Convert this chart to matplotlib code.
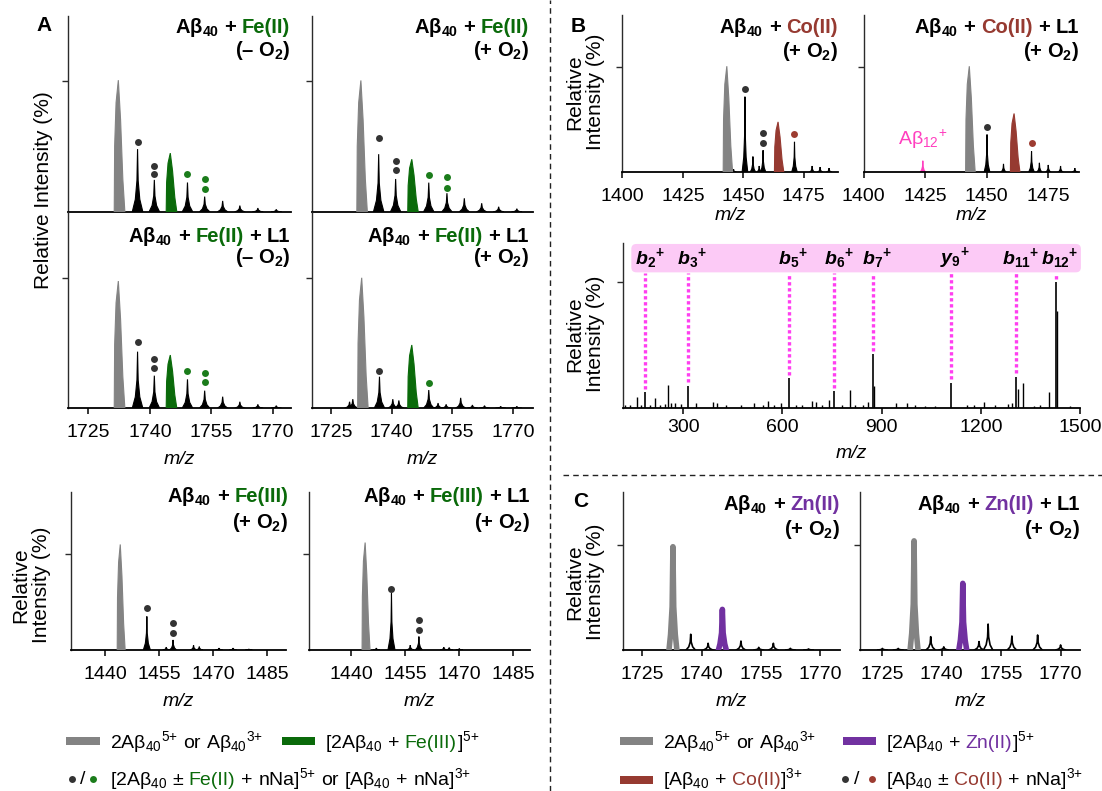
import numpy as np
import matplotlib
matplotlib.use("Agg")
import matplotlib.pyplot as plt
from matplotlib.lines import Line2D
from matplotlib.patches import Rectangle, FancyBboxPatch

plt.rcParams['font.family'] = ['Liberation Sans', 'DejaVu Sans']
plt.rcParams['mathtext.fontset'] = 'custom'
plt.rcParams['mathtext.rm'] = 'Liberation Sans'
plt.rcParams['mathtext.it'] = 'Liberation Sans:italic'
plt.rcParams['mathtext.bf'] = 'Liberation Sans:bold'

# colours
GRAY = '#838383'
GREEN = '#0a6a0a'
CO = '#963a31'
ZN = '#7131a0'
PINK = '#ff3fbf'
BAND = '#fccaf6'
MAG = '#ff3ff0'
FILL = {'k': 'black', 'gray': GRAY, 'fe': GREEN, 'co': CO, 'zn': ZN, 'ab12': PINK}
DOTS = {'k': '#333333', 'fe': '#1b7c1b', 'co': '#9d3c31'}

# ---------- data: (m/z, relative intensity %, species) ----------
# A: Fe(II) -O2 / +O2, without / with L1
fe2_minus_peaks = [(1732.3, 101, 'gray'), (1737.0, 48.2, 'k'), (1741.1, 24.6, 'k'), (1745.0, 45.1, 'fe'),
                   (1749.2, 22.6, 'k'), (1753.4, 11.8, 'k'), (1757.8, 8.5, 'k'), (1762.0, 4.9, 'k'),
                   (1766.4, 3.0, 'k'), (1770.9, 2.0, 'k')]
fe2_minus_dots = [(1737.0, 53.8, 'k'), (1741.1, 35.4, 'k'), (1741.1, 29.2, 'k'),
                  (1749.2, 29.2, 'fe'), (1753.4, 25.1, 'fe'), (1753.4, 17.9, 'fe')]

fe2_plus_peaks = [(1732.4, 100.8, 'gray'), (1736.8, 44.3, 'k'), (1741.0, 25.3, 'k'), (1745.0, 40.4, 'fe'),
                  (1749.2, 22.5, 'k'), (1753.7, 14.4, 'k'), (1758.0, 10.5, 'k'), (1762.3, 6.7, 'k'),
                  (1766.5, 4.0, 'k'), (1771.0, 2.5, 'k')]
fe2_plus_dots = [(1736.8, 56.8, 'k'), (1741.0, 39.4, 'k'), (1741.0, 32.2, 'k'),
                 (1749.2, 28.6, 'fe'), (1753.7, 27.1, 'fe'), (1753.7, 18.2, 'fe')]

fe2_L1_minus_peaks = [(1732.3, 97.5, 'gray'), (1737.0, 43.4, 'k'), (1741.1, 25.0, 'k'), (1745.0, 40.8, 'fe'),
                      (1749.2, 22.2, 'k'), (1753.4, 13.5, 'k'), (1757.8, 8.9, 'k'), (1762.0, 5.0, 'k'),
                      (1766.4, 3.0, 'k'), (1770.9, 2.0, 'k')]
fe2_L1_minus_dots = [(1737.0, 50.5, 'k'), (1741.1, 37.7, 'k'), (1741.1, 30.6, 'k'),
                     (1749.2, 28.3, 'fe'), (1753.4, 27.3, 'fe'), (1753.4, 20.4, 'fe')]

fe2_L1_plus_peaks = [(1729.6, 5, 'k'), (1730.4, 7, 'k'), (1732.6, 100, 'gray'), (1737.0, 24.2, 'k'),
                     (1740.3, 7, 'k'), (1741.8, 6, 'k'), (1745.0, 48.5, 'fe'), (1749.2, 14.0, 'k'),
                     (1751.5, 4, 'k'), (1753.5, 3, 'k'), (1757.1, 8, 'k'), (1760.0, 2.5, 'k'),
                     (1763.0, 2, 'k'), (1767.0, 1.5, 'k'), (1771.0, 1.5, 'k')]
fe2_L1_plus_dots = [(1737.0, 28.8, 'k'), (1749.2, 19.6, 'fe')]

# A: Fe(III)
fe3_peaks = [(1444.2, 110, 'gray'), (1451.6, 35, 'k'), (1457.0, 3, 'k'), (1458.9, 10.5, 'k'),
             (1464.6, 5, 'k'), (1466.2, 3.5, 'k'), (1471.7, 2, 'k'), (1475.6, 2, 'k'), (1480.0, 1, 'k')]
fe3_dots = [(1451.6, 43.4, 'k'), (1458.9, 27.8, 'k'), (1458.9, 18.0, 'k')]
fe3_L1_peaks = [(1443.9, 112, 'gray'), (1447.0, 2, 'k'), (1451.2, 59, 'k'), (1456.4, 5, 'k'),
                (1458.8, 14, 'k'), (1465.7, 3, 'k'), (1467.2, 2.5, 'k'), (1470.0, 1.5, 'k')]
fe3_L1_dots = [(1451.2, 64, 'k'), (1458.8, 31.4, 'k'), (1458.8, 21, 'k')]

# B: Co(II)
co_peaks = [(1443.2, 101, 'gray'), (1446.0, 3, 'k'), (1450.7, 72, 'k'), (1454.0, 15, 'k'),
            (1456.6, 6, 'k'), (1458.2, 21, 'k'), (1464.4, 48, 'co'), (1471.2, 29, 'k'),
            (1478.5, 6, 'k'), (1481.8, 5, 'k'), (1485.5, 4, 'k')]
co_dots = [(1450.7, 79, 'k'), (1458.2, 37, 'k'), (1458.2, 28, 'k'), (1471.2, 36.6, 'co')]
co_L1_peaks = [(1424.0, 11, 'ab12'), (1442.9, 101, 'gray'), (1450.1, 36, 'k'), (1456.8, 8, 'k'),
               (1461.1, 56, 'co'), (1468.2, 20, 'k'), (1471.4, 9, 'k'), (1475.0, 7, 'k'),
               (1480.0, 6, 'k'), (1485.8, 4, 'k')]
co_L1_dots = [(1450.1, 43.5, 'k'), (1468.2, 28, 'co')]

# B: MS/MS of Abeta12+
frag_names = [('b', '2'), ('b', '3'), ('b', '5'), ('b', '6'), ('b', '7'), ('y', '9'), ('b', '11'), ('b', '12')]
frag_mz = [185.4, 313.6, 620.3, 757.2, 872.5, 1109.5, 1307.3, 1427.0]
frag_h = [13.1, 17.9, 23.7, 13.6, 42.9, 20.3, 25.0, 100.0]
ms2_mz = [125, 140, 159, 172, 200, 215, 230, 245, 253, 262, 276, 293, 340, 391, 402, 430, 474, 514,
          540, 556, 575, 597, 640, 660, 688, 700, 720, 741, 780, 805, 820, 845, 860, 876, 942, 976,
          1000, 1030, 1060, 1158, 1180, 1209, 1243, 1281, 1295, 1312, 1327, 1360, 1380, 1407, 1429, 1470]
ms2_h = [3, 2.5, 8.6, 3, 3, 7.9, 2.5, 3.5, 18.4, 4, 4, 3.5, 4, 4.7, 4, 2.5, 2.8, 4,
         2.5, 5.7, 2.5, 4, 3, 2.5, 6, 5, 3, 6.6, 3, 14.5, 3, 3, 5, 18, 4, 4,
         3, 2, 2, 2.5, 2.5, 5, 2.5, 3.5, 4, 15, 20.3, 2, 2.5, 13.1, 77, 2]

# C: Zn(II)
zn_peaks = [(1732.7, 98.4, 'gray'), (1737.2, 15, 'k'), (1741.6, 6.4, 'k'), (1745.2, 38.7, 'zn'),
            (1749.9, 8.5, 'k'), (1754.4, 2.5, 'k'), (1758.1, 6.4, 'k'), (1762.4, 1.6, 'k'), (1767.0, 1, 'k')]
zn_L1_peaks = [(1725.0, 1.5, 'k'), (1729.0, 1.5, 'k'), (1733.0, 104, 'gray'), (1737.2, 12.7, 'k'),
               (1740.5, 3, 'k'), (1745.3, 63.5, 'zn'), (1749.4, 8, 'k'), (1751.7, 24.7, 'k'),
               (1757.7, 13.3, 'k'), (1764.2, 14.3, 'k'), (1770.0, 4.8, 'k')]

fe_ticks = [1725, 1740, 1755, 1770]
fe3_ticks = [1440, 1455, 1470, 1485]
co_ticks = [1400, 1425, 1450, 1475]
ms2_ticks = [300, 600, 900, 1200, 1500]

# peak outline shapes (m/z offsets, fraction of height)
SPIKE_DX = np.array([-1.3, -0.55, -0.15, 0.0, 0.15, 0.55, 1.3])
SPIKE_FY = np.array([0.0, 0.2, 0.5, 1.0, 0.5, 0.2, 0.0])
ENV_DX = np.array([-1.0, -0.9, -0.55, 0.0, 0.55, 1.1, 1.6])
ENV_FY = np.array([0.0, 0.5, 0.83, 1.0, 0.7, 0.25, 0.0])
LINE_DX = np.array([-1.0, -0.6, -0.2, 0.0, 0.2, 0.6, 1.0])
LINE_FY = np.array([0.0, 0.15, 0.42, 1.0, 0.42, 0.15, 0.0])

W, H = 1102, 791
fig = plt.figure(figsize=(W / 100, H / 100), dpi=100)
R = fig.canvas.get_renderer()


def px_axes(l, t, r, b):
    ax = fig.add_axes([l / W, 1 - b / H, (r - l) / W, (b - t) / H])
    ax.patch.set_alpha(0)
    return ax


def style(ax, xlim, ymax, ticks=None, pad=7.5):
    ax.set_xlim(*xlim)
    ax.set_ylim(0, ymax)
    ax.spines['top'].set_visible(False)
    ax.spines['right'].set_visible(False)
    ax.spines['left'].set_color('#2b2b2b')
    ax.spines['left'].set_linewidth(1.0)
    ax.spines['bottom'].set_linewidth(1.3)
    ax.set_yticks([100])
    ax.set_yticklabels([])
    ax.tick_params(axis='y', length=4, width=1, color='#2b2b2b')
    if ticks is None:
        ax.set_xticks([])
    else:
        ax.set_xticks(ticks)
        ax.tick_params(axis='x', length=4, width=1.1, labelsize=14, pad=pad)


def draw_filled(ax, peaks, w_env, w_spike):
    for mz, h, kind in peaks:
        if kind in ('k', 'ab12'):
            xs, ys, z = mz + w_spike * SPIKE_DX, h * SPIKE_FY, 2
        else:
            xs, ys, z = mz + w_env * ENV_DX, h * ENV_FY, 3
        ax.fill(xs, ys, facecolor=FILL[kind], edgecolor=FILL[kind], lw=0.8, zorder=z)


def draw_lines(ax, peaks, w_main, w_small):
    for mz, h, kind in peaks:
        if kind == 'k':
            ax.plot(mz + w_small * SPIKE_DX, h * SPIKE_FY, color='k', lw=1.2, zorder=2)
        else:
            ax.plot(mz + w_main * LINE_DX, h * LINE_FY, color=FILL[kind], lw=4, zorder=3)


def draw_dots(ax, dots):
    for mz, y, kind in dots:
        ax.plot(mz, y, 'o', ms=5, color=DOTS[kind], mec='none', zorder=4, clip_on=False)


def ftxt(x, y, s, **kw):
    return fig.text(x / W, 1 - y / H, s, **kw)


def rich(x, y, parts, size, weight='normal', ha='left'):
    arts, widths = [], []
    for p in parts:
        if p == ' ':
            arts.append(None)
            widths.append(size * 0.386)
            continue
        s, c = p if isinstance(p, tuple) else (p, 'black')
        t = fig.text(0, 0, s, fontsize=size, weight=weight, color=c, va='baseline')
        arts.append(t)
        widths.append(t.get_window_extent(R).width)
    x0 = x - sum(widths) if ha == 'right' else x
    for t, w in zip(arts, widths):
        if t is not None:
            t.set_position((x0 / W, 1 - y / H))
        x0 += w


def title(xr, y1, y2, metal, color, l1, plus):
    parts = ['Aβ$_{\\mathbf{40}}$', ' ', '+', ' ', (metal, color)]
    if l1:
        parts += [' ', '+', ' ', 'L1']
    rich(xr, y1, parts, 14.5, weight='bold', ha='right')
    rich(xr, y2, ['(+ O$_{\\mathbf{2}}$)' if plus else '(– O$_{\\mathbf{2}}$)'], 14.5, weight='bold', ha='right')


def mz_label(ax, y):
    b = ax.get_position()
    fig.text((b.x0 + b.x1) / 2, 1 - y / H, 'm/z', style='italic', fontsize=14, ha='center', va='center')


# ---------------- panel A ----------------
a11 = px_axes(68, 15.7, 291, 212)
a12 = px_axes(312, 15.7, 533, 212)
a21 = px_axes(68, 212, 291, 408.3)
a22 = px_axes(312, 212, 533, 408.3)
for ax, pk, dt, xl, tk in [(a11, fe2_minus_peaks, fe2_minus_dots, (1720, 1774.5), None),
                           (a12, fe2_plus_peaks, fe2_plus_dots, (1720.3, 1775), None),
                           (a21, fe2_L1_minus_peaks, fe2_L1_minus_dots, (1720, 1774.5), fe_ticks),
                           (a22, fe2_L1_plus_peaks, fe2_L1_plus_dots, (1720.3, 1775), fe_ticks)]:
    style(ax, xl, 150.4, tk)
    draw_filled(ax, pk, 1.0, 1.0)
    draw_dots(ax, dt)
title(290, 33, 56, 'Fe(II)', GREEN, False, False)
title(529, 33, 56, 'Fe(II)', GREEN, False, True)
title(290, 241.7, 263.3, 'Fe(II)', GREEN, True, False)
title(529, 241.7, 263.3, 'Fe(II)', GREEN, True, True)
mz_label(a21, 460)
mz_label(a22, 460)
ftxt(44, 190, 'Relative Intensity (%)', rotation=90, fontsize=15, ha='center', va='center')

a31 = px_axes(70.7, 491.7, 285.5, 650)
a32 = px_axes(308.5, 491.7, 530, 650)
style(a31, (1430.4, 1490.2), 165, fe3_ticks)
style(a32, (1428.2, 1489.6), 165, fe3_ticks)
draw_filled(a31, fe3_peaks, 0.85, 0.75)
draw_filled(a32, fe3_L1_peaks, 0.85, 0.75)
draw_dots(a31, fe3_dots)
draw_dots(a32, fe3_L1_dots)
title(288, 502, 528, 'Fe(III)', GREEN, False, True)
title(530, 502, 528, 'Fe(III)', GREEN, True, True)
mz_label(a31, 702)
mz_label(a32, 702)
ftxt(31, 585, 'Relative\nIntensity (%)', rotation=90, fontsize=15, ha='center', va='center',
     multialignment='center', linespacing=1.15)

# ---------------- panel B ----------------
b1 = px_axes(622.4, 15, 838, 172.3)
b2 = px_axes(863.8, 15, 1079, 172.3)
style(b1, (1400, 1489.2), 149.8, co_ticks)
style(b2, (1400, 1487.5), 149.8, co_ticks)
draw_filled(b1, co_peaks, 1.5, 0.9)
draw_filled(b2, co_L1_peaks, 1.5, 0.9)
draw_dots(b1, co_dots)
draw_dots(b2, co_L1_dots)
title(838, 33.3, 57.3, 'Co(II)', CO, False, True)
title(1079, 33.3, 57.3, 'Co(II)', CO, True, True)
mz_label(b1, 216)
mz_label(b2, 216)
ftxt(898, 145, 'Aβ$_{12}$$^{{+}}$', color=PINK, fontsize=14, va='baseline')
ftxt(585, 92, 'Relative\nIntensity (%)', rotation=90, fontsize=15, ha='center', va='center',
     multialignment='center', linespacing=1.15)

bm = px_axes(623.1, 243.3, 1080, 408.3)
style(bm, (118, 1500), 130.3, ms2_ticks, pad=4)
bm.vlines(ms2_mz, 0, ms2_h, colors='k', lw=1.0, zorder=2)
bm.vlines(frag_mz, 0, frag_h, colors='k', lw=1.2, zorder=2)
bm.vlines(frag_mz, np.array(frag_h) + 2.5, 106.6, colors=MAG, lw=2.4, linestyles=(0, (1, 0.8)), zorder=3)
band = FancyBboxPatch((0.018, 0.824), 0.984, 0.172, boxstyle='round,pad=0,rounding_size=0.011',
                      mutation_aspect=456.9 / 165, transform=bm.transAxes, facecolor=BAND,
                      edgecolor='none', clip_on=False, zorder=1)
bm.add_patch(band)
for (ion, num), mz in zip(frag_names, frag_mz):
    lab = ion + '$_{\\mathbf{' + num + '}}$$^{\\mathbf{{+}}}$'
    bm.annotate(lab, xy=(mz, 118.5), xytext=(3, 0), textcoords='offset points', ha='center',
                va='center', fontsize=14, style='italic', weight='bold', zorder=4, annotation_clip=False)
mz_label(bm, 454)
ftxt(585, 334, 'Relative\nIntensity (%)', rotation=90, fontsize=15, ha='center', va='center',
     multialignment='center', linespacing=1.15)

# ---------------- panel C ----------------
c1 = px_axes(623.1, 491.7, 839.8, 650)
c2 = px_axes(860.2, 491.7, 1080, 650)
style(c1, (1720.1, 1774.9), 150.8, fe_ticks)
style(c2, (1719.4, 1774.9), 150.8, fe_ticks)
draw_lines(c1, zn_peaks, 1.0, 0.9)
draw_lines(c2, zn_L1_peaks, 1.0, 0.9)
title(839.8, 510, 535, 'Zn(II)', ZN, False, True)
title(1080, 510, 535, 'Zn(II)', ZN, True, True)
mz_label(c1, 702)
mz_label(c2, 702)
ftxt(585, 582, 'Relative\nIntensity (%)', rotation=90, fontsize=15, ha='center', va='center',
     multialignment='center', linespacing=1.15)

# panel letters and dividers
ftxt(36, 31, 'A', fontsize=15, weight='bold', va='baseline')
ftxt(571, 32, 'B', fontsize=15, weight='bold', va='baseline')
ftxt(573, 507, 'C', fontsize=15, weight='bold', va='baseline')
fig.add_artist(Line2D([550 / W, 550 / W], [0, 1], color='#222222', lw=1.0, ls=(0, (4, 3))))
fig.add_artist(Line2D([563 / W, 1], [1 - 475 / H, 1 - 475 / H], color='#222222', lw=1.0, ls=(0, (4, 3))))

# ---------------- legends ----------------
def leg_rect(x0, x1, yc, color):
    fig.add_artist(Rectangle((x0 / W, 1 - (yc + 4) / H), (x1 - x0) / W, 8 / H,
                             transform=fig.transFigure, facecolor=color, edgecolor='none'))


def leg_dots(xa, xs, xb, yc, color):
    fig.add_artist(Line2D([xa / W], [1 - yc / H], marker='o', ms=5, color=DOTS['k'], mec='none'))
    ftxt(xs, yc + 5, '/', fontsize=14, ha='center', va='baseline')
    fig.add_artist(Line2D([xb / W], [1 - yc / H], marker='o', ms=5, color=color, mec='none'))


gray_text = ['2Aβ$_{40}$$^{5{+}}$', ' ', 'or', ' ', 'Aβ$_{40}$$^{3{+}}$']
leg_rect(66, 100, 741, GRAY)
rich(110, 748, gray_text, 14)
leg_rect(282, 315, 741, GREEN)
rich(325, 748, ['[2Aβ$_{40}$', ' ', '+', ' ', ('Fe(III)', GREEN), ']$^{5{+}}$'], 14)
leg_dots(72, 83, 93, 779, DOTS['fe'])
rich(110, 785, ['[2Aβ$_{40}$', ' ', '±', ' ', ('Fe(II)', GREEN), ' ', '+', ' ', 'nNa]$^{5{+}}$', ' ', 'or', ' ',
                '[Aβ$_{40}$', ' ', '+', ' ', 'nNa]$^{3{+}}$'], 14)

leg_rect(620, 653, 741, GRAY)
rich(663, 748, gray_text, 14)
leg_rect(843, 876, 741, ZN)
rich(886, 748, ['[2Aβ$_{40}$', ' ', '+', ' ', ('Zn(II)', ZN), ']$^{5{+}}$'], 14)
leg_rect(620, 653, 780, CO)
rich(663, 785, ['[Aβ$_{40}$', ' ', '+', ' ', ('Co(II)', CO), ']$^{3{+}}$'], 14)
leg_dots(845, 857, 872, 779, DOTS['co'])
rich(886, 785, ['[Aβ$_{40}$', ' ', '±', ' ', ('Co(II)', CO), ' ', '+', ' ', 'nNa]$^{3{+}}$'], 14)

fig.savefig('out.png', dpi=100, facecolor='white')
